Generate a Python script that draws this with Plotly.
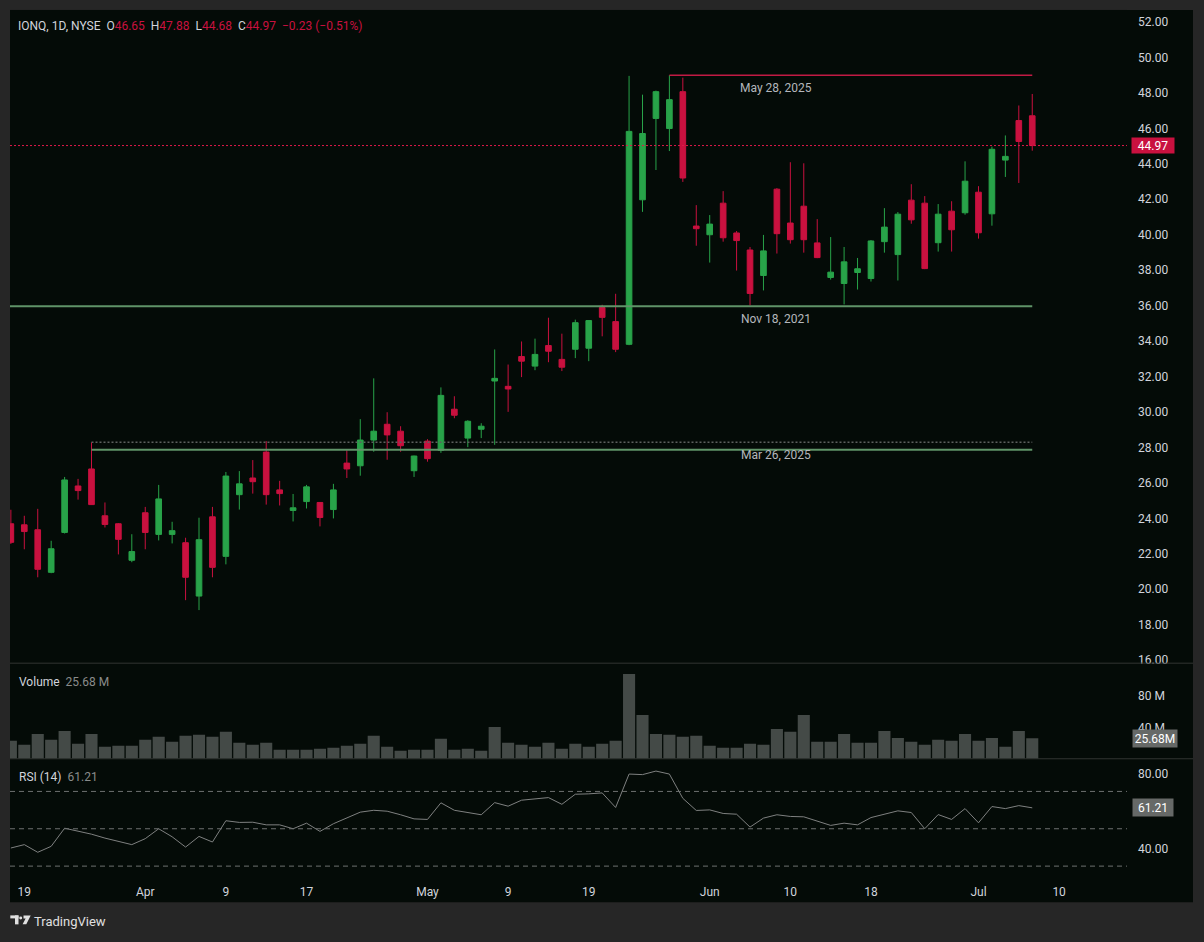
import plotly.graph_objects as go

# ---------------- data ----------------
dates = [
    "2025-03-18", "2025-03-19", "2025-03-20", "2025-03-21", "2025-03-24", "2025-03-25", "2025-03-26",
    "2025-03-27", "2025-03-28", "2025-03-31",
    "2025-04-01", "2025-04-02", "2025-04-03", "2025-04-04", "2025-04-07", "2025-04-08", "2025-04-09",
    "2025-04-10", "2025-04-11", "2025-04-14", "2025-04-15", "2025-04-16", "2025-04-17", "2025-04-21",
    "2025-04-22", "2025-04-23", "2025-04-24", "2025-04-25", "2025-04-28", "2025-04-29", "2025-04-30",
    "2025-05-01", "2025-05-02", "2025-05-05", "2025-05-06", "2025-05-07", "2025-05-08", "2025-05-09",
    "2025-05-12", "2025-05-13", "2025-05-14", "2025-05-15", "2025-05-16", "2025-05-19", "2025-05-20",
    "2025-05-21", "2025-05-22", "2025-05-23", "2025-05-27", "2025-05-28", "2025-05-29", "2025-05-30",
    "2025-06-02", "2025-06-03", "2025-06-04", "2025-06-05", "2025-06-06", "2025-06-09", "2025-06-10",
    "2025-06-11", "2025-06-12", "2025-06-13", "2025-06-16", "2025-06-17", "2025-06-18", "2025-06-20",
    "2025-06-23", "2025-06-24", "2025-06-25", "2025-06-26", "2025-06-27", "2025-06-30",
    "2025-07-01", "2025-07-02", "2025-07-03", "2025-07-07", "2025-07-08",
]
future_days = ["2025-07-09", "2025-07-10"]

opens = [23.64, 23.58, 23.30, 20.90, 23.15, 25.77, 26.73, 24.09, 23.64, 21.58,
         24.26, 23.04, 23.04, 22.57, 19.56, 24.03, 21.80, 25.28, 26.22, 27.68,
         25.55, 24.39, 24.89, 24.84, 24.44, 27.06, 26.91, 28.36, 29.25, 28.86,
         26.63, 28.30, 27.78, 30.10, 28.47, 28.97, 31.69, 31.39, 33.07, 32.53,
         33.69, 32.91, 33.48, 33.54, 35.84, 35.04, 33.76, 41.91, 46.50, 45.93,
         48.01, 40.43, 39.94, 41.72, 40.04, 39.08, 37.64, 42.51, 40.60, 41.55,
         39.48, 37.53, 37.19, 37.81, 37.47, 39.55, 38.82, 41.89, 41.72, 39.49,
         41.27, 41.18, 42.34, 41.12, 44.15, 46.38, 46.65]
highs = [24.43, 24.09, 24.48, 22.68, 26.28, 26.17, 28.23, 24.84, 23.68, 23.05,
         24.59, 25.83, 23.75, 22.85, 23.98, 24.59, 26.56, 26.61, 27.23, 28.30,
         26.06, 25.32, 25.83, 24.86, 25.89, 27.79, 29.54, 31.84, 29.93, 29.14,
         27.48, 28.41, 31.33, 30.83, 29.48, 29.31, 33.47, 32.62, 33.92, 34.08,
         35.26, 34.36, 35.15, 35.12, 35.99, 36.61, 48.90, 47.84, 48.07, 48.94,
         48.80, 41.61, 41.05, 42.40, 40.15, 39.25, 39.93, 42.57, 44.03, 43.97,
         40.82, 39.81, 39.25, 38.63, 39.64, 41.44, 41.22, 42.79, 42.12, 41.67,
         41.83, 44.08, 42.68, 44.91, 45.54, 47.23, 47.88]
lows = [22.50, 22.20, 20.62, 20.85, 23.09, 25.00, 24.70, 23.43, 21.91, 21.47,
        22.20, 22.70, 22.53, 19.33, 18.77, 20.62, 21.35, 24.44, 25.34, 24.72,
        24.67, 23.77, 24.50, 23.49, 23.94, 26.22, 26.35, 27.70, 27.25, 27.70,
        26.28, 27.14, 27.64, 29.59, 27.96, 28.47, 28.09, 29.95, 31.91, 32.30,
        32.75, 32.25, 32.98, 32.81, 34.21, 33.32, 33.71, 41.23, 43.59, 44.66,
        42.92, 39.32, 38.37, 39.55, 37.92, 35.95, 36.80, 38.88, 39.44, 38.93,
        38.62, 37.41, 36.01, 36.85, 37.30, 38.93, 37.36, 40.56, 38.00, 38.99,
        38.99, 41.07, 39.72, 40.45, 43.20, 42.86, 44.68]
closes = [22.59, 23.20, 21.07, 22.23, 26.11, 25.51, 24.72, 23.60, 22.76, 22.07,
          23.15, 25.04, 23.25, 20.62, 22.74, 21.18, 26.33, 25.89, 26.01, 25.28,
          25.34, 24.54, 25.72, 23.99, 25.55, 26.73, 28.36, 28.86, 28.65, 28.04,
          27.46, 27.31, 30.88, 29.76, 29.42, 29.14, 31.84, 31.24, 32.81, 33.19,
          33.37, 32.47, 34.98, 35.10, 35.28, 33.48, 45.77, 45.65, 48.01, 47.56,
          43.14, 40.28, 40.54, 39.77, 39.61, 36.63, 39.03, 40.00, 39.66, 39.66,
          38.65, 37.83, 38.41, 38.02, 39.59, 40.37, 41.10, 40.78, 38.03, 41.10,
          40.22, 42.96, 40.05, 44.76, 44.36, 45.20, 44.97]
volume_m = [22.5, 17.5, 31.2, 23.8, 35.0, 18.7, 31.2, 15.1, 16.3, 16.3,
            23.8, 27.5, 21.3, 28.8, 30.0, 27.5, 33.8, 20.0, 17.5, 20.0,
            11.3, 11.3, 11.3, 12.5, 13.7, 16.3, 18.7, 28.8, 15.1, 10.0,
            11.3, 11.3, 25.0, 11.3, 12.5, 10.0, 40.0, 20.0, 17.5, 15.1,
            20.0, 12.5, 18.7, 15.1, 18.7, 22.5, 106.3, 55.0, 31.2, 30.0,
            27.5, 28.8, 16.3, 13.7, 13.7, 18.7, 17.5, 37.5, 33.8, 55.0,
            21.3, 21.3, 31.2, 20.0, 20.0, 35.0, 26.2, 21.3, 17.5, 23.8,
            22.5, 31.2, 22.5, 26.2, 15.1, 35.0, 25.68]
rsi = [39.7, 41.5, 37.4, 40.6, 50.3, 48.9, 47.1, 45.0, 43.2, 41.5,
       44.7, 50.0, 45.7, 40.2, 45.9, 42.9, 54.3, 53.4, 53.5, 52.1,
       52.1, 50.0, 53.0, 48.6, 52.7, 55.7, 58.9, 59.9, 59.4, 57.5,
       55.3, 55.0, 63.9, 59.9, 58.7, 57.5, 64.0, 62.1, 65.3, 66.2,
       66.7, 63.1, 68.5, 68.7, 69.2, 61.4, 79.3, 79.0, 80.9, 79.3,
       66.3, 59.8, 60.1, 58.2, 57.8, 50.9, 55.7, 57.5, 56.6, 56.4,
       53.9, 51.8, 53.0, 52.1, 56.0, 58.0, 59.6, 58.7, 50.0, 57.6,
       55.0, 60.8, 53.2, 61.9, 60.8, 62.4, 61.21]

tick_dates = ["2025-03-19", "2025-04-01", "2025-04-09", "2025-04-17", "2025-05-01", "2025-05-09",
              "2025-05-19", "2025-06-02", "2025-06-10", "2025-06-18", "2025-07-01", "2025-07-10"]
tick_text = ["19", "Apr", "9", "17", "May", "9", "19", "Jun", "10", "18", "Jul", "10"]

nov18_2021_level = 35.90
mar26_support = 27.81
rsi_bands = [70, 50, 30]

# ---------------- styling ----------------
W, H = 1204, 942
UP = "#28a349"
DOWN = "#c9113f"
BG = "#040b07"
FRAME = "#262626"
TXT = "#d1d4dc"
GREY = "#8a8c8b"
FONT = "Roboto, Lato, sans-serif"


def px(v):
    return v / W


def py(v):
    return 1 - v / H


x = list(range(len(dates)))
axis_days = dates + future_days
tickvals = [axis_days.index(d) for d in tick_dates]
last = len(dates) - 1
i_may28 = dates.index("2025-05-28")
i_mar26 = dates.index("2025-03-26")
xrange = [-0.064, 83.05]

fig = go.Figure()
fig.add_trace(go.Candlestick(
    x=x, open=opens, high=highs, low=lows, close=closes,
    increasing=dict(line=dict(color=UP, width=1), fillcolor=UP),
    decreasing=dict(line=dict(color=DOWN, width=1), fillcolor=DOWN),
    whiskerwidth=0, hoverinfo="skip", showlegend=False, xaxis="x", yaxis="y"))
fig.add_trace(go.Bar(
    x=x, y=[v * 1e6 for v in volume_m], width=0.9,
    marker=dict(color="#444a47", line=dict(width=0)),
    hoverinfo="skip", showlegend=False, xaxis="x2", yaxis="y2"))
fig.add_trace(go.Scatter(
    x=x, y=rsi, mode="lines", line=dict(color="#7f8180", width=1),
    hoverinfo="skip", showlegend=False, xaxis="x3", yaxis="y3"))

xdom = [px(10), px(1127)]
common_x = dict(domain=xdom, range=xrange, showgrid=False, zeroline=False, showline=False,
                fixedrange=True)
common_y = dict(side="right", showgrid=False, zeroline=False, showline=False, ticks="",
                tickfont=dict(family=FONT, size=12, color=TXT), ticklabelstandoff=10,
                ticklabelshift=1)

fig.update_layout(
    width=W, height=H,
    margin=dict(l=0, r=0, t=0, b=0),
    paper_bgcolor=FRAME, plot_bgcolor=BG,
    boxgap=0.4,
    showlegend=False,
    xaxis=dict(**common_x, anchor="y", showticklabels=False, rangeslider=dict(visible=False)),
    xaxis2=dict(**common_x, anchor="y2", showticklabels=False, matches="x"),
    xaxis3=dict(**common_x, anchor="y3", matches="x", tickvals=tickvals, ticktext=tick_text,
                ticks="", ticklabelstandoff=9,
                tickfont=dict(family=FONT, size=12, color=TXT)),
    yaxis=dict(**common_y, anchor="x", domain=[py(666), py(10)], range=[15.776, 52.618],
               dtick=2, tick0=0, tickformat=".2f"),
    yaxis2=dict(**common_y, anchor="x2", domain=[py(762), py(666)], range=[0, 120e6],
                tickvals=[40e6, 80e6], ticktext=["40 M", "80 M"]),
    yaxis3=dict(**common_y, anchor="x3", domain=[py(878), py(762)], range=[25.63, 87.49],
                tickvals=[40, 80], ticktext=["40.00", "80.00"]),
)

shapes = []
# dark chart panel
shapes.append(dict(type="rect", xref="paper", yref="paper", x0=px(10), x1=px(1193),
                   y0=py(906), y1=py(10), fillcolor=BG, line=dict(width=0), layer="below"))
# pane separators
for sep in (666, 762):
    shapes.append(dict(type="line", xref="paper", yref="paper", x0=px(10), x1=px(1193),
                       y0=py(sep), y1=py(sep), line=dict(color="#313432", width=1)))
# RSI bands
for b in rsi_bands:
    shapes.append(dict(type="line", xref="x3 domain", yref="y3", x0=0, x1=1, y0=b, y1=b,
                       line=dict(color="#6e7170", width=1, dash="5px,4px")))
# last price line
shapes.append(dict(type="line", xref="x domain", yref="y", x0=0, x1=1,
                   y0=closes[-1], y1=closes[-1],
                   line=dict(color="#e0194a", width=1, dash="2px,2px")))
# drawings
shapes.append(dict(type="line", xref="x", yref="y", x0=i_may28, x1=last,
                   y0=highs[i_may28], y1=highs[i_may28], line=dict(color="#c21a44", width=1.5)))
shapes.append(dict(type="line", xref="x", yref="y", x0=xrange[0], x1=last,
                   y0=nov18_2021_level, y1=nov18_2021_level, line=dict(color="#5f9468", width=2)))
shapes.append(dict(type="line", xref="x", yref="y", x0=i_mar26, x1=last,
                   y0=highs[i_mar26], y1=highs[i_mar26],
                   line=dict(color="#5d615f", width=1.5, dash="2px,2px")))
shapes.append(dict(type="line", xref="x", yref="y", x0=i_mar26, x1=last,
                   y0=mar26_support, y1=mar26_support, line=dict(color="#5f9468", width=2)))
# TradingView logo
LOGO = "#e0e0e0"
shapes.append(dict(type="rect", xref="paper", yref="paper", x0=px(10.3), x1=px(18.5),
                   y0=py(922.3), y1=py(919.3), fillcolor=LOGO, line=dict(width=0)))
shapes.append(dict(type="rect", xref="paper", yref="paper", x0=px(15), x1=px(18.5),
                   y0=py(928.3), y1=py(919.3), fillcolor=LOGO, line=dict(width=0)))
shapes.append(dict(type="circle", xref="paper", yref="paper", x0=px(19.2), x1=px(22.2),
                   y0=py(923.3), y1=py(920.3), fillcolor=LOGO, line=dict(width=0)))
shapes.append(dict(type="path", xref="paper", yref="paper",
                   path=f"M {px(23.5)} {py(919.3)} L {px(30.7)} {py(919.3)} L {px(26.3)} {py(928.3)} "
                        f"L {px(22.6)} {py(928.3)} L {px(25.6)} {py(922.3)} L {px(23.5)} {py(922.3)} Z",
                   fillcolor=LOGO, line=dict(width=0)))
fig.update_layout(shapes=shapes)

# ---------------- text ----------------
vc = DOWN if closes[-1] < opens[-1] else UP
chg = closes[-1] - closes[-2]
pct = chg / closes[-2] * 100


def signed(v, fmt):
    s = format(abs(v), fmt)
    return ("\u2212" if v < 0 else "+") + s


def sp(t, c):
    return f"<span style='color:{c}'>{t}</span>"


nb = "\u00a0"
header = (f"IONQ, 1D, NYSE{nb}{nb}O{sp(f'{opens[-1]:.2f}', vc)}{nb}{nb}"
          f"H{sp(f'{highs[-1]:.2f}', vc)}{nb}{nb}L{sp(f'{lows[-1]:.2f}', vc)}{nb}{nb}"
          f"C{sp(f'{closes[-1]:.2f}', vc)}{nb}{nb}"
          + sp(f"{signed(chg, '.2f')} ({signed(pct, '.2f')}%)", vc))

ann = []
ann.append(dict(xref="paper", yref="paper", x=px(16), y=py(26.5), xanchor="left", yanchor="middle",
                text=header, showarrow=False, font=dict(family=FONT, size=12, color=TXT)))
ann.append(dict(xref="paper", yref="paper", x=px(17), y=py(685), xanchor="left", yanchor="middle",
                text=f"Volume{nb}{nb}" + sp(f"{volume_m[-1]:.2f} M", GREY), showarrow=False,
                font=dict(family=FONT, size=12, color=TXT)))
ann.append(dict(xref="paper", yref="paper", x=px(17), y=py(780), xanchor="left", yanchor="middle",
                text=f"RSI (14){nb}{nb}" + sp(f"{rsi[-1]:.2f}", GREY), showarrow=False,
                font=dict(family=FONT, size=12, color=TXT)))
# drawing labels
for lvl, txt in [(highs[i_may28], "May 28, 2025"), (nov18_2021_level, "Nov 18, 2021"),
                 (highs[i_mar26], "Mar 26, 2025")]:
    ann.append(dict(xref="paper", yref="y", x=px(776), y=lvl, yshift=-13, xanchor="center",
                    yanchor="middle", text=txt, showarrow=False,
                    font=dict(family=FONT, size=12, color="#b4b7bc")))
# axis value boxes
ann.append(dict(xref="paper", yref="y", x=px(1131), y=closes[-1], xanchor="left", yanchor="middle",
                text=f"{closes[-1]:.2f}", showarrow=False, bgcolor=DOWN, borderpad=2,
                width=38, height=11, font=dict(family=FONT, size=12, color="#ffffff")))
ann.append(dict(xref="paper", yref="y2", x=px(1132), y=volume_m[-1] * 1e6, xanchor="left",
                yanchor="middle", text=f"{volume_m[-1]:.2f}M", showarrow=False, bgcolor="#666967",
                borderpad=2, width=40, height=13, font=dict(family=FONT, size=12, color="#ffffff")))
ann.append(dict(xref="paper", yref="y3", x=px(1132), y=rsi[-1], xanchor="left", yanchor="middle",
                text=f"{rsi[-1]:.2f}", showarrow=False, bgcolor="#666967", borderpad=2,
                width=36, height=13, font=dict(family=FONT, size=12, color="#ffffff")))
# footer logo text
ann.append(dict(xref="paper", yref="paper", x=px(32), y=py(925), xanchor="left", yanchor="middle",
                text="TradingView", showarrow=False,
                font=dict(family=FONT, size=13, color="#e0e0e0")))
fig.update_layout(annotations=ann)

fig.write_html(
    "out.html",
    config=dict(displayModeBar=False),
    post_script="document.body.style.margin='0';document.body.style.background='%s';"
                "document.documentElement.style.overflow='hidden';" % FRAME,
)
